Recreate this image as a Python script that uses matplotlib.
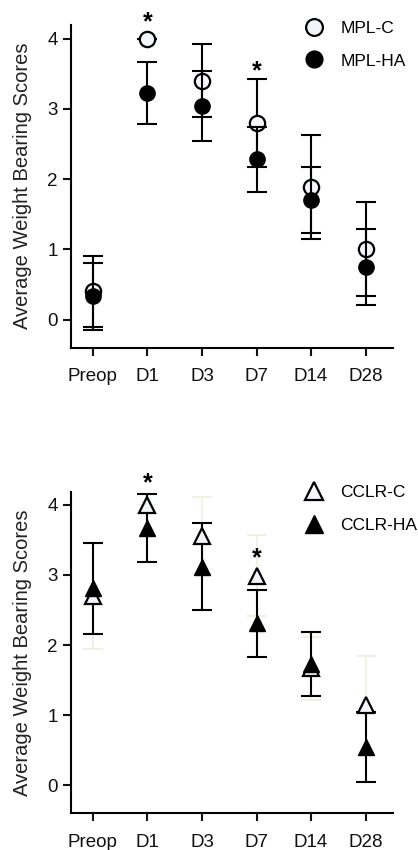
"""Weight bearing scores, MPL and CCLR groups."""

import matplotlib
matplotlib.use("Agg")
import matplotlib.pyplot as plt

plt.rcParams["font.family"] = ["Liberation Sans", "DejaVu Sans"]

days = ["Preop", "D1", "D3", "D7", "D14", "D28"]

mpl_c = [0.40, 4.00, 3.40, 2.80, 1.89, 1.00]
mpl_c_err = [0.51, 0.0, 0.52, 0.63, 0.74, 0.67]
mpl_ha = [0.33, 3.23, 3.04, 2.28, 1.70, 0.75]
mpl_ha_err = [0.48, 0.44, 0.50, 0.46, 0.47, 0.54]
mpl_star_idx = [1, 3]
mpl_star_y = [4.23, 3.54]

cclr_c = [2.70, 4.00, 3.56, 2.99, 1.67, 1.14]
cclr_c_err = [0.75, 0.0, 0.55, 0.58, 0.45, 0.70]
cclr_ha = [2.81, 3.67, 3.12, 2.31, 1.73, 0.55]
cclr_ha_err = [0.65, 0.48, 0.62, 0.48, 0.46, 0.50]
cclr_star_idx = [1, 3]
cclr_star_y = [4.31, 3.24]

x = list(range(len(days)))
open_face = "#f3f5fb"


def style_axes(ax, ytop):
    ax.set_xlim(-0.4, 5.5)
    ax.set_ylim(-0.4, ytop)
    ax.set_yticks([0, 1, 2, 3, 4])
    ax.set_xticks(x)
    ax.set_xticklabels(days)
    for side in ["top", "right"]:
        ax.spines[side].set_visible(False)
    for side in ["left", "bottom"]:
        ax.spines[side].set_linewidth(1.5)
    ax.tick_params(axis="both", direction="out", length=6, width=1.5,
                   labelsize=13.5, colors="#111111")
    ax.tick_params(axis="x", pad=9)
    ax.set_ylabel("Average Weight Bearing Scores", fontsize=14.5, color="#222222",
                  labelpad=11)


fig = plt.figure(figsize=(4.18, 8.5), dpi=100)
ax1 = fig.add_axes([0.170, 0.591, 0.770, 0.380])
ax2 = fig.add_axes([0.170, 0.043, 0.770, 0.378])

ebar = dict(capsize=7, capthick=1.5, elinewidth=1.5, linestyle="none", marker="none")
leg = dict(loc="upper left", frameon=False, fontsize=12.5, handletextpad=0.9,
           labelspacing=1.0, handlelength=1.2, markerscale=1.1)

# top panel: MPL
ax1.errorbar(x, mpl_c, yerr=mpl_c_err, color="black", zorder=2, **ebar)
ax1.plot(x, mpl_c, "o", markersize=11, markerfacecolor=open_face,
         markeredgecolor="black", markeredgewidth=1.6, label="MPL-C", zorder=3)
ax1.errorbar(x, mpl_ha, yerr=mpl_ha_err, color="black", zorder=4, **ebar)
ax1.plot(x, mpl_ha, "o", markersize=11, color="black", label="MPL-HA", zorder=5)
for i, y in zip(mpl_star_idx, mpl_star_y):
    ax1.text(x[i], y, "*", ha="center", va="center", fontsize=18, fontweight="bold")
style_axes(ax1, 4.2)
ax1.legend(bbox_to_anchor=(0.675, 1.06), **leg)

# bottom panel: CCLR
ax2.errorbar(x, cclr_c, yerr=cclr_c_err, color="#edf3e4", zorder=2, **ebar)
ax2.errorbar(x, cclr_ha, yerr=cclr_ha_err, color="black", zorder=3, **ebar)
ax2.plot(x, cclr_c, "^", markersize=12, markerfacecolor=open_face,
         markeredgecolor="black", markeredgewidth=1.6, label="CCLR-C", zorder=4)
ax2.plot(x, cclr_ha, "^", markersize=12, color="black", label="CCLR-HA", zorder=5)
for i, y in zip(cclr_star_idx, cclr_star_y):
    ax2.text(x[i], y, "*", ha="center", va="center", fontsize=18, fontweight="bold")
style_axes(ax2, 4.18)
ax2.legend(bbox_to_anchor=(0.675, 1.07), **leg)

fig.savefig("out.png", dpi=100)
plt.close(fig)
